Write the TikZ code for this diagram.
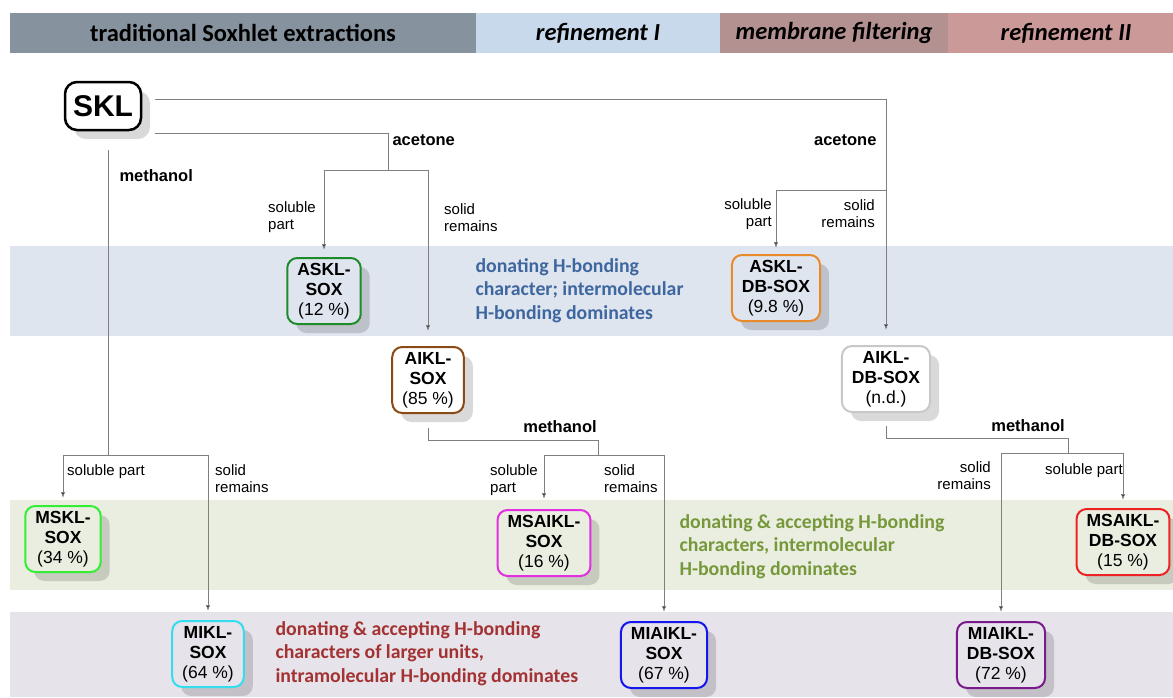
\documentclass[tikz,border=0pt]{standalone}
\usepackage{fontspec}
\setmainfont{Liberation Sans}
\newfontfamily\calfont{Carlito}
\usetikzlibrary{arrows.meta,shadows}
\definecolor{hdrA}{HTML}{86929D}
\definecolor{hdrB}{HTML}{C9D9EC}
\definecolor{hdrC}{HTML}{B39190}
\definecolor{hdrD}{HTML}{CC9999}
\definecolor{bandB}{HTML}{DFE5EE}
\definecolor{bandG}{HTML}{EAEEE1}
\definecolor{bandP}{HTML}{E6E3EA}
\definecolor{txtB}{HTML}{3E67A0}
\definecolor{txtG}{HTML}{77983A}
\definecolor{txtR}{HTML}{A33232}
\definecolor{cASKL}{HTML}{1E8B2A}
\definecolor{cAIKL}{HTML}{8B4A14}
\definecolor{cASKLDB}{HTML}{E88A2A}
\definecolor{cAIKLDB}{HTML}{C8C8C8}
\definecolor{cMSKL}{HTML}{33EE33}
\definecolor{cMIKL}{HTML}{33DDEE}
\definecolor{cMSAIKL}{HTML}{E030E0}
\definecolor{cMIAIKL}{HTML}{1515EE}
\definecolor{cMSAIKLDB}{HTML}{EE2222}
\definecolor{cMIAIKLDB}{HTML}{7B1A8C}
\definecolor{lineC}{HTML}{7F7F7F}
\tikzset{
  sbox/.style={draw=#1, line width=2pt, rounded corners=10pt, align=center,
    inner xsep=10pt, inner ysep=5pt, minimum height=66pt,
    font=\fontsize{17.5}{20}\selectfont,
    drop shadow={shadow xshift=9pt, shadow yshift=-9pt, fill=black, opacity=0.15}},
  wire/.style={draw=lineC, line width=0.9pt},
  conn/.style={wire, -{Latex[length=6pt,width=4.5pt,fill=black]}},
  small/.style={font=\fontsize{15}{17}\selectfont, align=left},
  solv/.style={font=\bfseries\fontsize{16.5}{19}\selectfont},
  hdr/.style={font=\calfont\bfseries\fontsize{24.5}{26}\selectfont},
  bandtxt/.style={font=\calfont\bfseries\fontsize{19.8}{23.3}\selectfont, align=left, anchor=north west}
}
\begin{document}
\begin{tikzpicture}[x=1pt,y=-1pt]
\useasboundingbox (0,0) rectangle (1173,697);
% header
\fill[hdrA] (10,13) rectangle (476,53);
\fill[hdrB] (476,13) rectangle (720,53);
\fill[hdrC] (720,13) rectangle (948,53);
\fill[hdrD] (948,13) rectangle (1173,53);
\node[hdr] (h1) at (243,33) {traditional Soxhlet extractions};
\node[hdr] (h2) at (598,33) {\itshape refinement I};
\node[hdr] (h3) at (834,33) {\itshape membrane filtering};
\node[hdr] (h4) at (1066,33) {\itshape refinement II};
% bands
\fill[bandB] (10,246) rectangle (1173,336);
\fill[bandG] (10,500) rectangle (1173,590);
\fill[bandP] (10,612) rectangle (1173,697);
\node[bandtxt, text=txtB] (tB) at (472,255) {donating H-bonding\\character; intermolecular\\H-bonding dominates};
\node[bandtxt, text=txtG] (tG) at (676,511) {donating \& accepting H-bonding\\characters, intermolecular\\H-bonding dominates};
\node[bandtxt, text=txtR] (tR) at (272,618) {donating \& accepting H-bonding\\characters of larger units,\\intramolecular H-bonding dominates};
% nodes
\node[draw=black, line width=2.5pt, rounded corners=12pt, fill=white, minimum width=76pt, minimum height=48pt,
  font=\bfseries\fontsize{30}{30}\selectfont,
  drop shadow={shadow xshift=9pt, shadow yshift=-9pt, fill=black, opacity=0.15}] (SKL) at (103,106) {SKL};
\node[sbox=cASKL, fill=bandB] (ASKL) at (324,291) {\textbf{ASKL-}\\\textbf{SOX}\\(12 \%)};
\node[sbox=cAIKL, fill=white] (AIKL) at (428,380) {\textbf{AIKL-}\\\textbf{SOX}\\(85 \%)};
\node[sbox=cASKLDB, fill=bandB] (ASKLDB) at (776,288) {\textbf{ASKL-}\\\textbf{DB-SOX}\\(9.8 \%)};
\node[sbox=cAIKLDB, fill=white] (AIKLDB) at (886,379) {\textbf{AIKL-}\\\textbf{DB-SOX}\\(n.d.)};
\node[sbox=cMSKL, fill=bandG] (MSKL) at (63,539) {\textbf{MSKL-}\\\textbf{SOX}\\(34 \%)};
\node[sbox=cMSAIKL, fill=bandG] (MSAIKL) at (544,543) {\textbf{MSAIKL-}\\\textbf{SOX}\\(16 \%)};
\node[sbox=cMSAIKLDB, fill=bandG] (MSAIKLDB) at (1123,542) {\textbf{MSAIKL-}\\\textbf{DB-SOX}\\(15 \%)};
\node[sbox=cMIKL, fill=bandP] (MIKL) at (208,654) {\textbf{MIKL-}\\\textbf{SOX}\\(64 \%)};
\node[sbox=cMIAIKL, fill=bandP] (MIAIKL) at (664,655) {\textbf{MIAIKL-}\\\textbf{SOX}\\(67 \%)};
\node[sbox=cMIAIKLDB, fill=bandP] (MIAIKLDB) at (1001,655) {\textbf{MIAIKL-}\\\textbf{DB-SOX}\\(72 \%)};
% junction coordinates
\coordinate (s1) at (155,99);
\coordinate (s2) at (155,133);
\coordinate (s3) at (108,150);
\coordinate (j1) at (388,170);
\coordinate (j2) at (108,455);
\coordinate (j4) at (886,190);
\coordinate (a1) at (428,428);
\coordinate (m1) at (598,440);
\coordinate (j3) at (598,455);
\coordinate (b1) at (886,426);
\coordinate (m2) at (1068,438);
\coordinate (j5) at (1068,453);
% connectors
\draw[conn, shorten >=15pt] (s1) -| (AIKLDB.north);
\draw[conn, shorten >=6pt] (j4) -| (ASKLDB.north);
\draw[wire] (s2) -| (j1);
\draw[conn, shorten >=7pt] (j1) -| (ASKL.north);
\draw[conn, shorten >=15pt] (j1) -| (AIKL.north);
\draw[wire] (s3) -- (j2);
\draw[conn, shorten >=7pt] (j2) -| (MSKL.north);
\draw[conn, shorten >=9pt] (j2) -| (MIKL.north);
\draw[wire] (a1) |- (m1) -- (j3);
\draw[conn, shorten >=10pt] (j3) -| (MSAIKL.north);
\draw[conn, shorten >=9pt] (j3) -| (MIAIKL.north);
\draw[wire] (b1) |- (m2) -- (j5);
\draw[conn, shorten >=8pt] (j5) -| (MSAIKLDB.north);
\draw[conn, shorten >=9pt] (j5) -| (MIAIKLDB.north);
% labels
\node[solv, anchor=west] (ac1) at (389,140) {acetone};
\node[solv, anchor=east] (ac2) at (880,140) {acetone};
\node[solv, anchor=west] (me1) at (116,176) {methanol};
\node[solv] (me2) at (560,427) {methanol};
\node[solv] (me3) at (1028,426) {methanol};
\node[small, anchor=north west, inner sep=0pt] (l1) at (268,201) {soluble\\part};
\node[small, anchor=north west, inner sep=0pt] (l2) at (444,203) {solid\\remains};
\node[small, anchor=north east, inner sep=0pt, align=right] (l3) at (772,198) {soluble\\part};
\node[small, anchor=north east, inner sep=0pt, align=right] (l4) at (875,199) {solid\\remains};
\node[small, anchor=north west, inner sep=0pt] (l5) at (67,464) {soluble part};
\node[small, anchor=north west, inner sep=0pt] (l6) at (215,464) {solid\\remains};
\node[small, anchor=north west, inner sep=0pt] (l7) at (490,464) {soluble\\part};
\node[small, anchor=north west, inner sep=0pt] (l8) at (604,464) {solid\\remains};
\node[small, anchor=north east, inner sep=0pt, align=right] (l9) at (991,461) {solid\\remains};
\node[small, anchor=north west, inner sep=0pt] (l10) at (1045,463) {soluble part};
\end{tikzpicture}
\end{document}
